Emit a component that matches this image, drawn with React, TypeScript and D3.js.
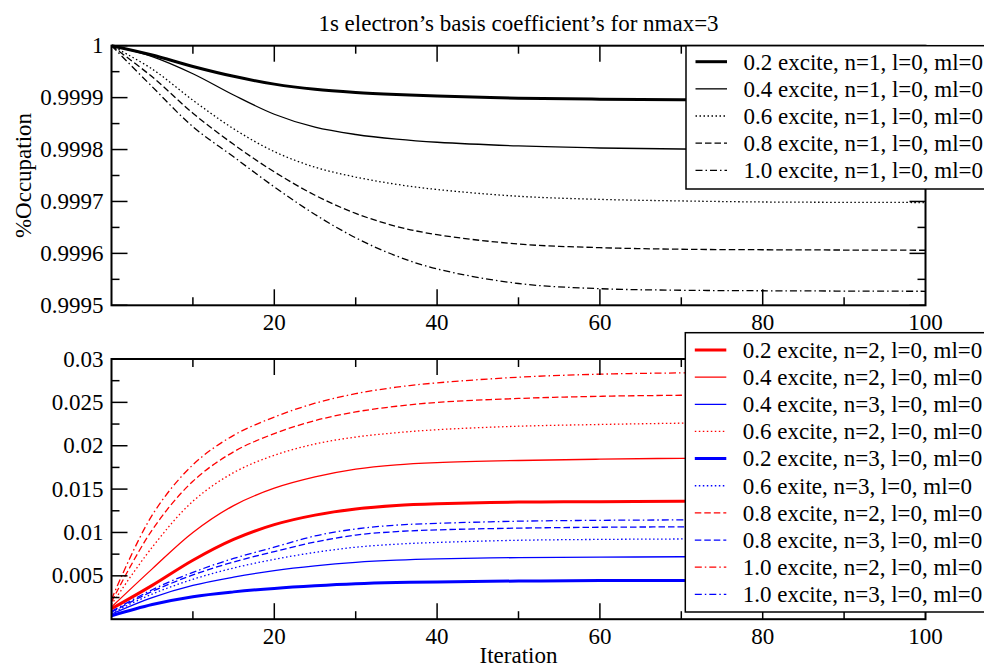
import React from "react";
import * as d3 from "d3";

// ---------- data ----------
const iterations = [0, 5, 10, 15, 20, 25, 30, 35, 40, 50, 60, 70, 80, 100];

// top panel: 1s occupation
const occ02 = [1.0, 0.999982, 0.99996, 0.999941, 0.999926, 0.999916, 0.99991, 0.999906, 0.999903, 0.999899, 0.999897, 0.999896, 0.9998955, 0.999895];
const occ04 = [1.0, 0.999979, 0.999946, 0.999905, 0.999868, 0.999843, 0.999829, 0.99982, 0.999814, 0.999807, 0.999803, 0.999801, 0.9998, 0.9998];
const occ06 = [1.0, 0.999955, 0.999895, 0.99984, 0.999796, 0.999766, 0.999747, 0.999733, 0.999723, 0.99971, 0.999704, 0.999701, 0.999699, 0.999698];
const occ08 = [1.0, 0.99994, 0.99987, 0.99981, 0.999757, 0.999712, 0.999677, 0.999652, 0.999636, 0.999618, 0.999611, 0.999608, 0.999607, 0.999606];
const occ10 = [1.0, 0.999921, 0.999844, 0.999786, 0.999728, 0.999675, 0.99963, 0.999595, 0.99957, 0.999542, 0.999532, 0.999529, 0.999528, 0.999527];

// bottom panel (units of 1e-3)
const r02 = [1.2, 3.9, 6.8, 9.2, 10.9, 12.0, 12.7, 13.1, 13.3, 13.5, 13.55, 13.6, 13.6, 13.6];
const r04 = [1.4, 5.8, 10.0, 13.1, 15.1, 16.4, 17.3, 17.8, 18.05, 18.3, 18.45, 18.55, 18.6, 18.6];
const b04 = [0.6, 2.5, 3.9, 4.85, 5.6, 6.15, 6.55, 6.8, 6.95, 7.1, 7.15, 7.2, 7.2, 7.25];
const r06 = [1.7, 8.3, 13.6, 16.9, 18.9, 20.2, 21.0, 21.5, 21.85, 22.25, 22.45, 22.6, 22.7, 22.75];
const b02 = [0.4, 1.7, 2.6, 3.15, 3.55, 3.85, 4.08, 4.22, 4.3, 4.4, 4.45, 4.46, 4.47, 4.47];
const b06 = [0.7, 2.9, 4.6, 5.9, 6.9, 7.7, 8.3, 8.65, 8.85, 9.1, 9.2, 9.25, 9.3, 9.3];
const r08 = [2.0, 10.3, 15.9, 19.3, 21.4, 22.9, 23.9, 24.55, 25.0, 25.45, 25.7, 25.82, 25.9, 25.95];
const b08 = [0.8, 3.2, 5.1, 6.6, 7.8, 8.9, 9.7, 10.1, 10.3, 10.5, 10.6, 10.65, 10.7, 10.7];
const r10 = [2.3, 12.0, 17.8, 21.2, 23.3, 24.9, 26.0, 26.75, 27.25, 27.9, 28.25, 28.4, 28.5, 28.5];
const b10 = [0.9, 3.4, 5.4, 7.0, 8.3, 9.6, 10.4, 10.85, 11.05, 11.3, 11.4, 11.45, 11.5, 11.5];

const topLabels = [
  "0.2 excite, n=1, l=0, ml=0",
  "0.4 excite, n=1, l=0, ml=0",
  "0.6 excite, n=1, l=0, ml=0",
  "0.8 excite, n=1, l=0, ml=0",
  "1.0 excite, n=1, l=0, ml=0",
];
const bottomLabels = [
  "0.2 excite, n=2, l=0, ml=0",
  "0.4 excite, n=2, l=0, ml=0",
  "0.4 excite, n=3, l=0, ml=0",
  "0.6 excite, n=2, l=0, ml=0",
  "0.2 excite, n=3, l=0, ml=0",
  "0.6 exite, n=3, l=0, ml=0",
  "0.8 excite, n=2, l=0, ml=0",
  "0.8 excite, n=3, l=0, ml=0",
  "1.0 excite, n=2, l=0, ml=0",
  "1.0 excite, n=3, l=0, ml=0",
];
const xTickLabels = [20, 40, 60, 80, 100];
const topYTicks = [0.9995, 0.9996, 0.9997, 0.9998, 0.9999, 1];
const bottomYTicks = [0.005, 0.01, 0.015, 0.02, 0.025, 0.03];
const title = "1s electron\u2019s basis coefficient\u2019s for nmax=3";

// ---------- styles ----------
const FONT = '"Liberation Serif", "Times New Roman", Times, "DejaVu Serif", serif';
const FS = 23;
const RED = "#ff0000";
const BLUE = "#0000ff";
const DOT = "1.5,2.5";
const DASH = "6.5,3";
const DASHDOT = "7,3,1.5,3";

type Style = { color: string; width: number; dash?: string };

const topStyles: Style[] = [
  { color: "#000", width: 3 },
  { color: "#000", width: 1.3 },
  { color: "#000", width: 1.3, dash: DOT },
  { color: "#000", width: 1.3, dash: DASH },
  { color: "#000", width: 1.3, dash: DASHDOT },
];
const bottomStyles: Style[] = [
  { color: RED, width: 3 },
  { color: RED, width: 1.3 },
  { color: BLUE, width: 1.3 },
  { color: RED, width: 1.3, dash: DOT },
  { color: BLUE, width: 3 },
  { color: BLUE, width: 1.3, dash: DOT },
  { color: RED, width: 1.3, dash: DASH },
  { color: BLUE, width: 1.3, dash: DASH },
  { color: RED, width: 1.3, dash: DASHDOT },
  { color: BLUE, width: 1.3, dash: DASHDOT },
];

const topSeries = [occ02, occ04, occ06, occ08, occ10];
const bottomSeries = [r02, r04, b04, r06, b02, b06, r08, b08, r10, b10].map((s) =>
  s.map((v) => v / 1000)
);

// ---------- layout ----------
const W = 984;
const H = 669;
const L = 111.5;
const R = 925.5;
const TOP1 = 45.7;
const BOT1 = 305.3;
const TOP2 = 359;
const BOT2 = 619.2;

const x = d3.scaleLinear().domain([0, 100]).range([L, R]);
const y1 = d3.scaleLinear().domain([0.9995, 1]).range([BOT1, TOP1]);
const y2 = d3.scaleLinear().domain([0, 0.03]).range([BOT2, TOP2]);

const textStyle = { fontFamily: FONT, fontSize: FS };

function Frame({ y, top, bottom, yMajor, yMinor, yLabels, fmt }: any) {
  const xMajor = d3.range(20, 100, 20);
  const xMinor = d3.range(10, 100, 20);
  const MAJ = 16;
  const MIN = 8;
  const els: any[] = [];
  xMajor.forEach((v: number, i: number) => {
    els.push(<line key={"xb" + i} x1={x(v)} x2={x(v)} y1={bottom} y2={bottom - MAJ} />);
    els.push(<line key={"xt" + i} x1={x(v)} x2={x(v)} y1={top} y2={top + MAJ} />);
  });
  xMinor.forEach((v: number, i: number) => {
    els.push(<line key={"xbm" + i} x1={x(v)} x2={x(v)} y1={bottom} y2={bottom - MIN} />);
    els.push(<line key={"xtm" + i} x1={x(v)} x2={x(v)} y1={top} y2={top + MIN} />);
  });
  yMajor.forEach((v: number, i: number) => {
    els.push(<line key={"yl" + i} x1={L} x2={L + MAJ} y1={y(v)} y2={y(v)} />);
    els.push(<line key={"yr" + i} x1={R} x2={R - MAJ} y1={y(v)} y2={y(v)} />);
  });
  yMinor.forEach((v: number, i: number) => {
    els.push(<line key={"ylm" + i} x1={L} x2={L + MIN} y1={y(v)} y2={y(v)} />);
    els.push(<line key={"yrm" + i} x1={R} x2={R - MIN} y1={y(v)} y2={y(v)} />);
  });
  return (
    <g>
      <g stroke="#000" strokeWidth={1.5}>{els}</g>
      <rect x={L} y={top} width={R - L} height={bottom - top} fill="none" stroke="#000" strokeWidth={2} />
      <g style={textStyle} fill="#000">
        {yLabels.map((v: number, i: number) => (
          <text key={"ylab" + i} x={L - 8} y={y(v) + 7.5} textAnchor="end">
            {fmt(v)}
          </text>
        ))}
        {xTickLabels.map((v: number, i: number) => (
          <text key={"xlab" + i} x={x(v)} y={bottom + 25} textAnchor="middle">
            {v}
          </text>
        ))}
      </g>
    </g>
  );
}

function Legend({ x0, y0, rows0, labels, styles, height }: any) {
  return (
    <g>
      <rect x={x0} y={y0} width={W - x0 + 20} height={height} fill="#fff" stroke="#000" strokeWidth={1.5} />
      {labels.map((lab: string, i: number) => {
        const yy = rows0 + i * 27.15;
        const s = styles[i];
        return (
          <g key={i}>
            <line x1={x0 + 9.5} x2={x0 + 41} y1={yy} y2={yy} stroke={s.color} strokeWidth={s.width} strokeDasharray={s.dash} />
            <text x={x0 + 57.5} y={yy + 7.8} style={textStyle} fill="#000">
              {lab}
            </text>
          </g>
        );
      })}
    </g>
  );
}

export default function App() {
  const curve = d3.curveCatmullRom.alpha(0.5);
  const line1 = (vals: number[]) =>
    d3.line<number>().x((_, i) => x(iterations[i])).y((v) => y1(v)).curve(curve)(vals) as string;
  const line2 = (vals: number[]) =>
    d3.line<number>().x((_, i) => x(iterations[i])).y((v) => y2(v)).curve(curve)(vals) as string;

  return (
    <svg width={W} height={H} style={{ position: "absolute", left: 0, top: 0, background: "#fff" }}>
      <rect x={0} y={0} width={W} height={H} fill="#fff" />
      <text x={(L + R) / 2} y={30.5} textAnchor="middle" style={textStyle}>
        {title}
      </text>

      {/* top panel */}
      <g fill="none">
        {topSeries.map((s, i) => (
          <path key={i} d={line1(s)} stroke={topStyles[i].color} strokeWidth={topStyles[i].width} strokeDasharray={topStyles[i].dash} />
        ))}
      </g>
      <Frame
        y={y1}
        top={TOP1}
        bottom={BOT1}
        yMajor={topYTicks}
        yMinor={d3.range(0, 5).map((i) => 0.99955 + i * 0.0001)}
        yLabels={topYTicks}
        fmt={(v: number) => (v === 1 ? "1" : v.toFixed(4))}
      />
      <text transform={`translate(31,${(TOP1 + BOT1) / 2}) rotate(-90)`} textAnchor="middle" style={textStyle}>
        %Occupation
      </text>

      {/* bottom panel */}
      <g fill="none">
        {bottomSeries.map((s, i) => (
          <path key={i} d={line2(s)} stroke={bottomStyles[i].color} strokeWidth={bottomStyles[i].width} strokeDasharray={bottomStyles[i].dash} />
        ))}
      </g>
      <Frame
        y={y2}
        top={TOP2}
        bottom={BOT2}
        yMajor={bottomYTicks}
        yMinor={d3.range(0, 6).map((i) => 0.0025 + i * 0.005)}
        yLabels={bottomYTicks}
        fmt={(v: number) => String(+v.toFixed(3))}
      />
      <text x={(L + R) / 2} y={663} textAnchor="middle" style={textStyle}>
        Iteration
      </text>

      <Legend x0={686} y0={TOP1} rows0={61.7} labels={topLabels} styles={topStyles} height={143.3} />
      <Legend x0={685.3} y0={332.7} rows0={350} labels={bottomLabels} styles={bottomStyles} height={279.3} />
    </svg>
  );
}
